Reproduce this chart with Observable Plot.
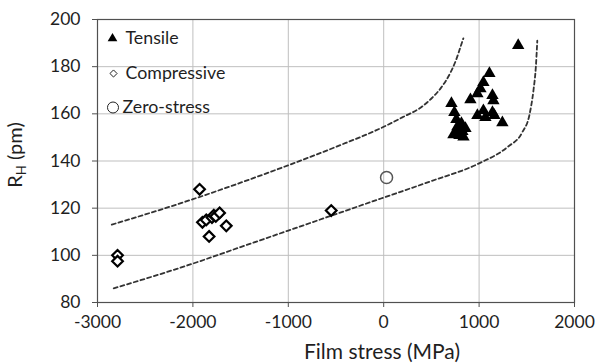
<!DOCTYPE html>
<html><head><meta charset="utf-8">
<script src="https://cdn.jsdelivr.net/npm/d3@7"></script>
<script src="https://cdn.jsdelivr.net/npm/@observablehq/plot@0.6"></script>
<style>
body{margin:0;background:#fff;}
#chart{width:604px;height:364px;}
</style></head><body><div id="chart"></div>
<script>
// Tensile samples
const tensileStress = [710, 741, 762, 773, 762, 794, 825, 857, 815, 783, 731, 836, 1108, 1045, 1014, 982, 909, 1140, 1150, 1045, 982, 1140, 1160, 1244, 1066, 1410];
const tensileRH     = [164.4, 160.6, 157.6, 154.6, 152.1, 150.8, 152.5, 153.8, 155.9, 153.8, 151.2, 150.2, 177.1, 173.3, 170.7, 168.6, 166, 167.8, 165.6, 161.4, 159.3, 160.6, 159.3, 156.3, 158.5, 189];
// Compressive samples
const compStress = [-1930, -1900, -1860, -1800, -1780, -1760, -1720, -1650, -1830, -2790, -2790, -550];
const compRH     = [128, 114, 115, 116, 117, 116.5, 118, 112.5, 108, 100, 97.5, 119];
// Zero-stress sample
const zeroStress = [30];
const zeroRH     = [133];
// Dashed bound curves
const upperStress = [-2850, -2000, -1500, -1000, -500, 0, 200, 400, 500, 600, 700, 760, 810, 835];
const upperRH     = [113, 123.8, 130.8, 138.2, 146, 154.5, 158.6, 163, 166.5, 171, 177.5, 183, 189, 192];
const lowerStress = [-2830, -2000, -1500, -1000, -500, 0, 500, 1000, 1300, 1450, 1530, 1570, 1595, 1610];
const lowerRH     = [86, 96.5, 103.5, 110.5, 117.5, 124.5, 131.5, 139, 146, 152, 160, 170, 180, 191];
// Ticks and labels
const xTicks = [-3000, -2000, -1000, 0, 1000, 2000];
const yTicks = [80, 100, 120, 140, 160, 180, 200];
const xGrid = [-2000, -1000, 0, 1000];
const yGrid = [100, 120, 140, 160, 180];
const legendLabels = ["Tensile", "Compressive", "Zero-stress"];
const xTitle = "Film stress (MPa)";

const zip = (xs, ys) => xs.map((x, i) => ({x, y: ys[i]}));
const tensile = zip(tensileStress, tensileRH);
const compressive = zip(compStress, compRH);
const zero = zip(zeroStress, zeroRH);
const upper = zip(upperStress, upperRH);
const lower = zip(lowerStress, lowerRH);

const font = "Lato, 'Open Sans', sans-serif";
const ink = "#1f1f1f";

const plot = Plot.plot({
  width: 604, height: 364,
  marginLeft: 97, marginRight: 30, marginTop: 19, marginBottom: 62,
  style: {fontFamily: font, fontSize: "17.5px", color: ink, background: "#fff"},
  x: {domain: [-3000, 2000]},
  y: {domain: [80, 200]},
  marks: [
    Plot.gridX(xGrid, {stroke: "#bfbfbf", strokeOpacity: 1}),
    Plot.gridY(yGrid, {stroke: "#bfbfbf", strokeOpacity: 1}),
    Plot.frame({stroke: "#505050", strokeWidth: 1.2}),
    Plot.axisX(xTicks, {tickSize: 5, tickPadding: 8, label: null, tickFormat: d => String(d), stroke: "#505050", fontSize: 17.5}),
    Plot.axisY(yTicks, {tickSize: 5, tickPadding: 12, label: null, tickFormat: d => String(d), stroke: "#505050", fontSize: 17.5}),
    Plot.line(upper, {x: "x", y: "y", stroke: "#333", strokeWidth: 1.8, strokeDasharray: "4,3", curve: "monotone-x"}),
    Plot.line(lower, {x: "x", y: "y", stroke: "#333", strokeWidth: 1.8, strokeDasharray: "4,3", curve: "monotone-x"}),
    Plot.dot(compressive, {x: "x", y: "y", symbol: "diamond2", r: 4.8, stroke: "#000", strokeWidth: 2.2, fill: "#fff"}),
    Plot.dot(zero, {x: "x", y: "y", symbol: "circle", r: 6, stroke: "#555", strokeWidth: 1.5, fill: "none"}),
    Plot.dot(tensile, {x: "x", y: "y", symbol: "triangle", r: 4.6, fill: "#000", stroke: "none"}),
    // legend
    Plot.dot([legendLabels[0]], {frameAnchor: "top-left", dx: 15, dy: 19, symbol: "triangle", r: 3.6, fill: "#000"}),
    Plot.dot([legendLabels[1]], {frameAnchor: "top-left", dx: 16, dy: 54, symbol: "diamond2", r: 3.2, stroke: "#222", strokeWidth: 1, fill: "none"}),
    Plot.dot([legendLabels[2]], {frameAnchor: "top-left", dx: 15.5, dy: 88, symbol: "circle", r: 5.5, stroke: "#222", strokeWidth: 1, fill: "none"}),
    Plot.text([legendLabels[0]], {frameAnchor: "top-left", dx: 28, dy: 19, text: d => d, textAnchor: "start", lineAnchor: "middle", fontSize: 17.8, fill: ink}),
    Plot.text([legendLabels[1]], {frameAnchor: "top-left", dx: 28, dy: 54, text: d => d, textAnchor: "start", lineAnchor: "middle", fontSize: 17.8, fill: ink}),
    Plot.text([legendLabels[2]], {frameAnchor: "top-left", dx: 25, dy: 88, text: d => d, textAnchor: "start", lineAnchor: "middle", fontSize: 17.8, fill: ink}),
    Plot.text([xTitle], {frameAnchor: "bottom", dx: 46, dy: 50, text: d => d, lineAnchor: "middle", fontSize: 21, fill: ink})
  ]
});

document.getElementById("chart").appendChild(plot);

// Y axis title with subscript H
const svg = d3.select(plot);
const yt = svg.append("text")
  .attr("transform", "translate(22,155) rotate(-90)")
  .attr("text-anchor", "middle")
  .attr("font-family", font)
  .attr("font-size", 20)
  .attr("fill", ink);
yt.append("tspan").text("R");
yt.append("tspan").attr("font-size", 13).attr("dy", 4).text("H");
yt.append("tspan").attr("dy", -4).text(" (pm)");
</script>
</body></html>
